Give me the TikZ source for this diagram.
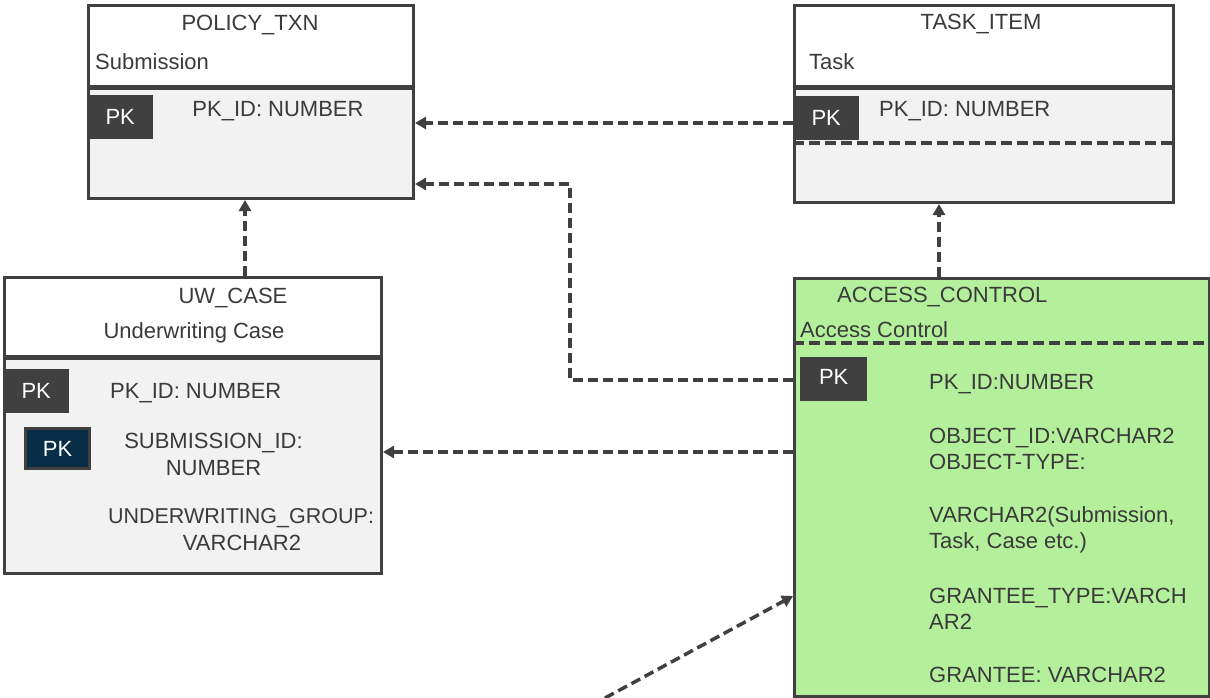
\documentclass[tikz,border=0pt]{standalone}
\usepackage{fontspec}
\setmainfont{Liberation Sans}
\usetikzlibrary{arrows.meta,calc}

\definecolor{edge}{RGB}{64,64,64}
\definecolor{txt}{RGB}{58,58,58}
\definecolor{bodygray}{RGB}{242,242,242}
\definecolor{acgreen}{RGB}{180,240,155}
\definecolor{navy}{RGB}{8,45,70}

\begin{document}
\begin{tikzpicture}[x=1pt,y=-1pt,
  font=\fontsize{22}{26}\selectfont, text=txt,
  entity/.style={draw=edge, line width=3pt, inner sep=0pt, anchor=north west},
  pkbox/.style={fill=edge, text=white, inner sep=0pt, anchor=north west,
                minimum width=66pt, minimum height=44pt},
  lbl/.style={anchor=base, inner sep=0pt},
  lbll/.style={anchor=base west, inner sep=0pt},
  divider/.style={draw=edge, line width=4.5pt},
  dashdiv/.style={draw=edge, line width=3.5pt, dash pattern=on 11pt off 5pt},
  link/.style={draw=edge, line width=3.5pt, dash pattern=on 10pt off 5pt,
               -{Triangle[length=11pt,width=12pt]}},
]
\useasboundingbox (0,0) rectangle (1210,698);

% ---------------- POLICY_TXN ----------------
\node[entity, fill=bodygray, minimum width=325pt, minimum height=193pt] (policy) at (87,4) {};
\node[entity, fill=white, minimum width=325pt, minimum height=81pt] (policyhead) at (87,4) {};
\draw[divider] (policyhead.south west) -- (policyhead.south east);
\node[lbl]  (policytitle) at (250,31) {POLICY\_TXN};
\node[lbll] (policysub)   at (95,70)  {Submission};
\node[pkbox] (policypk)   at (87,95)  {PK};
\node[lbl]  (policyf1)    at (278,117) {PK\_ID: NUMBER};

% ---------------- TASK_ITEM ----------------
\node[entity, fill=bodygray, minimum width=379pt, minimum height=197pt] (task) at (793,4) {};
\node[entity, fill=white, minimum width=379pt, minimum height=81pt] (taskhead) at (793,4) {};
\draw[divider] (taskhead.south west) -- (taskhead.south east);
\node[lbl]  (tasktitle) at (981,30) {TASK\_ITEM};
\node[lbll] (tasksub)   at (809,70) {Task};
\node[pkbox] (taskpk)   at (793,96) {PK};
\node[lbll] (taskf1)    at (879,117) {PK\_ID: NUMBER};
\draw[dashdiv] (task.west |- 0,143) -- (task.east |- 0,143);

% ---------------- UW_CASE ----------------
\node[entity, fill=bodygray, minimum width=377pt, minimum height=296pt] (uwcase) at (3,276) {};
\node[entity, fill=white, minimum width=377pt, minimum height=79pt] (uwhead) at (3,276) {};
\draw[divider] (uwhead.south west) -- (uwhead.south east);
\node[lbl]  (uwtitle) at (233,303) {UW\_CASE};
\node[lbl]  (uwsub)   at (194,338) {Underwriting Case};
\node[pkbox] (uwpk)   at (3,369) {PK};
\node[lbll] (uwf1)    at (110,398) {PK\_ID: NUMBER};
\node[pkbox, fill=navy, draw=edge, line width=3pt, minimum width=64pt, minimum height=40pt]
      (uwfk) at (24,427) {PK};
\node[lbl]  (uwf2a)   at (213.5,448) {SUBMISSION\_ID:};
\node[lbl]  (uwf2b)   at (213.5,475) {NUMBER};
\node[lbl, font=\fontsize{21.5}{26}\selectfont] (uwf3a) at (241,523) {UNDERWRITING\_GROUP:};
\node[lbl]  (uwf3b)   at (242,550) {VARCHAR2};

% ---------------- ACCESS_CONTROL ----------------
\node[entity, fill=acgreen, minimum width=415pt, minimum height=418pt] (access) at (793,277) {};
\node[lbll] (actitle) at (837,302) {ACCESS\_CONTROL};
\node[lbll] (acsub)   at (800,337) {Access Control};
\draw[dashdiv] (access.west |- 0,343) -- (access.east |- 0,343);
\node[pkbox, minimum width=67pt, text depth=4pt] (acpk) at (800,357) {PK};
\node[lbll] (acf1) at (929,389) {PK\_ID:NUMBER};
\node[lbll] (acf2) at (929,443) {OBJECT\_ID:VARCHAR2};
\node[lbll] (acf3) at (929,469) {OBJECT-TYPE:};
\node[lbll] (acf4) at (929,522) {VARCHAR2(Submission,};
\node[lbll] (acf5) at (929,548) {Task, Case etc.)};
\node[lbll] (acf6) at (929,603) {GRANTEE\_TYPE:VARCH};
\node[lbll] (acf7) at (929,629) {AR2};
\node[lbll] (acf8) at (929,682) {GRANTEE: VARCHAR2};

% ---------------- relationships ----------------
\coordinate (bend) at (570,184);
\coordinate (tail) at (605,698);

\draw[link] (task.west |- 0,123) -- (policy.east |- 0,123);
\draw[link] (access.west |- 0,380) -| (bend) -- (policy.east |- bend);
\draw[link] (uwcase.north -| 245,0) -- (policy.south -| 245,0);
\draw[link] (access.north -| 939,0) -- (task.south -| 939,0);
\draw[link] (access.west |- 0,452) -- (uwcase.east |- 0,452);
\draw[link] (tail) -- (access.west |- 0,596);
\end{tikzpicture}
\end{document}
